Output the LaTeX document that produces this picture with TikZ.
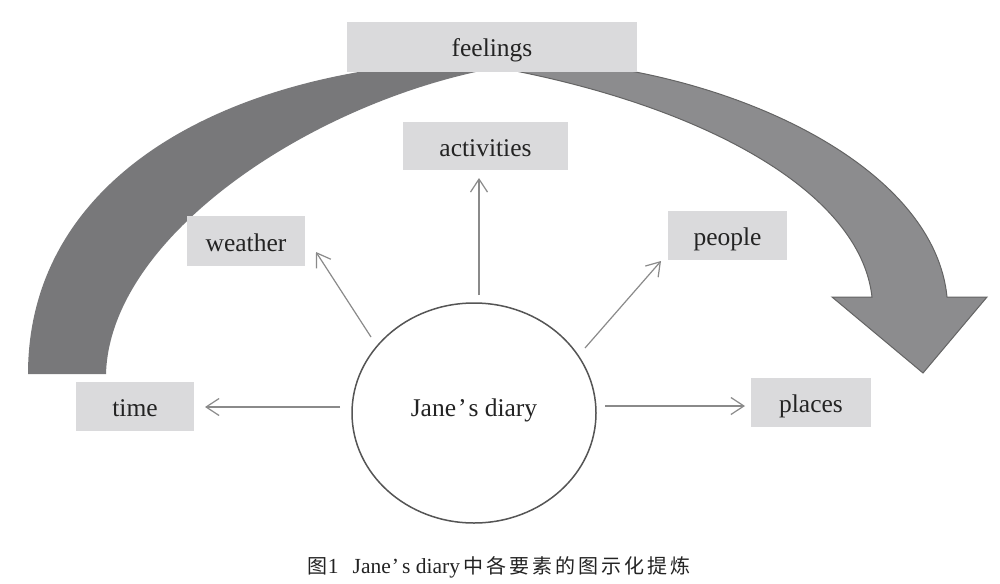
\documentclass[tikz,border=0pt]{standalone}
\usepackage{fontspec}
\setmainfont{Liberation Serif}
\newfontfamily\cjk[LetterSpace=15]{Noto Sans CJK SC}
\usetikzlibrary{arrows.meta,shapes.geometric}
\definecolor{boxgray}{RGB}{218,218,220}
\definecolor{bandleft}{RGB}{120,120,122}
\definecolor{bandright}{RGB}{140,140,142}
\definecolor{bandedge}{RGB}{100,100,100}
\definecolor{linkgray}{RGB}{138,138,138}
\definecolor{inkgray}{RGB}{35,35,35}
\definecolor{ringgray}{RGB}{85,85,85}
\begin{document}
\begin{tikzpicture}[x=1pt,y=-1pt,
  lbl/.style={fill=boxgray, inner sep=0pt, text=inkgray,
    font=\fontsize{25.5}{30}\selectfont, text height=20pt, text depth=0pt},
  link/.style={draw=linkgray, line width=1.2pt, -{Straight Barb[length=13pt,width=17pt]}},
]
\useasboundingbox (0,0) rectangle (1000,583);
\fill[white] (0,0) rectangle (1000,583);

% big curved arrow: darker left band
\fill[bandleft] (28,374) .. controls (28,175) and (230,64) .. (490,60)
  -- (520,64) .. controls (330,90) and (110,230) .. (106,374) -- cycle;
% lighter right part with arrowhead
\filldraw[fill=bandright, draw=bandedge, line width=1pt, line join=miter]
  (585,64) .. controls (760,85) and (935,175) .. (947,297)
  -- (987,297) -- (923,373) -- (832,297) -- (872,297)
  .. controls (860,190) and (700,105) .. (500,68) -- cycle;

% label boxes
\node[lbl, minimum width=290pt, minimum height=50pt] (feel) at (492,47) {feelings};
\node[lbl, minimum width=165pt, minimum height=48pt] (act) at (485.5,146) {activities};
\node[lbl, minimum width=118pt, minimum height=50pt] (weath) at (246,241) {weather};
\node[lbl, minimum width=119pt, minimum height=49pt] (peop) at (727.5,235.5) {people};
\node[lbl, minimum width=118pt, minimum height=49pt] (time) at (135,406.5) {time};
\node[lbl, minimum width=120pt, minimum height=49pt] (plac) at (811,402.5) {places};

% central ellipse
\node[ellipse, draw=ringgray, line width=1.5pt, minimum width=244pt, minimum height=220pt,
  inner sep=0pt, text=inkgray, font=\fontsize{25.5}{30}\selectfont,
  text height=18pt, text depth=12pt] (diary) at (474,413) {Jane\kern2pt’\kern2pt s diary};

% connector end points
\coordinate (timeS) at (340,407);  \coordinate (timeE) at (205,407);
\coordinate (placS) at (605,406);  \coordinate (placE) at (745,406);
\coordinate (actS) at (479,295);   \coordinate (actE) at (479,178);
\coordinate (weathS) at (371,337); \coordinate (weathE) at (316,252);
\coordinate (peopS) at (585,348);  \coordinate (peopE) at (661,261);

\draw[link] (timeS) -- (timeE);
\draw[link] (placS) -- (placE);
\draw[link] (actS) -- (actE);
\draw[link] (weathS) -- (weathE);
\draw[link] (peopS) -- (peopE);

% caption
\node[anchor=base, inner sep=0pt, text=inkgray, font=\fontsize{21.5}{26}\selectfont] (cap) at (499,573)
  {{\cjk\fontsize{20}{26}\selectfont 图}1\hspace{14pt}Jane\kern1pt’\kern3pt s diary\hspace{3pt}{\cjk\fontsize{20}{26}\selectfont 中各要素的图示化提炼}};
\end{tikzpicture}
\end{document}
